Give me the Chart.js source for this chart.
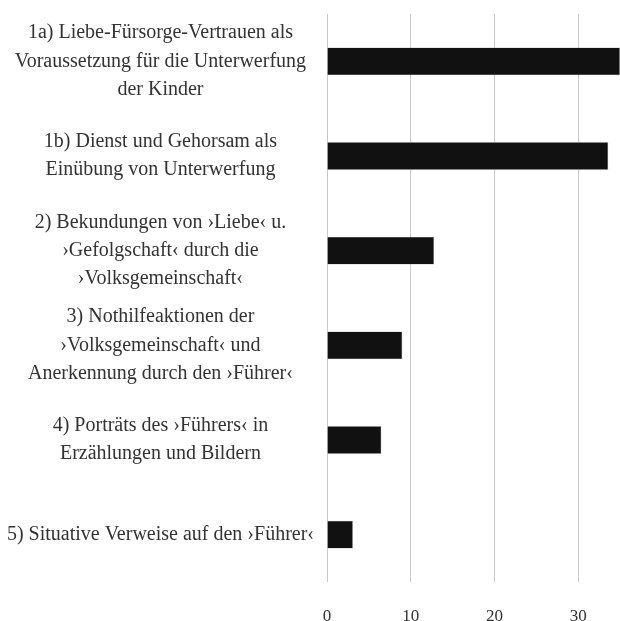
<!DOCTYPE html>
<html>
<head>
<meta charset="utf-8">
<script src="https://cdn.jsdelivr.net/npm/chart.js@4"></script>
<style>
  html, body { margin: 0; padding: 0; background: #fff; }
  #wrap { width: 620px; height: 621px; position: relative; }
</style>
</head>
<body>
<div id="wrap"><canvas id="chart"></canvas></div>
<script>
// categories (each label split into its printed lines)
const categories = [
    ['1a) Liebe-Fürsorge-Vertrauen als', 'Voraussetzung für die Unterwerfung', 'der Kinder'],
    ['1b) Dienst und Gehorsam als', 'Einübung von Unterwerfung'],
    ['2) Bekundungen von ›Liebe‹ u.', '›Gefolgschaft‹ durch die', '›Volksgemeinschaft‹'],
    ['3) Nothilfeaktionen der', '›Volksgemeinschaft‹ und', 'Anerkennung durch den ›Führer‹'],
    ['4) Porträts des ›Führers‹ in', 'Erzählungen und Bildern'],
    ['5) Situative Verweise auf den ›Führer‹']
];
const values = [35.0, 33.6, 12.8, 9.0, 6.5, 3.1];
const xTicks = [0, 10, 20, 30];

const serif = "'Liberation Serif', 'DejaVu Serif', serif";

new Chart(document.getElementById('chart'), {
    type: 'bar',
    data: {
        labels: categories,
        datasets: [{
            data: values,
            backgroundColor: '#111111',
            borderColor: '#9a9a9a',
            borderWidth: 0.6,
            categoryPercentage: 0.6,
            barPercentage: 0.49
        }]
    },
    options: {
        indexAxis: 'y',
        responsive: true,
        maintainAspectRatio: false,
        animation: false,
        layout: { padding: { top: 14, right: 0, bottom: 0, left: 0 } },
        plugins: {
            legend: { display: false },
            tooltip: { enabled: false }
        },
        scales: {
            x: {
                min: 0,
                max: 35,
                afterBuildTicks: (axis) => { axis.ticks = xTicks.map(v => ({ value: v })); },
                afterFit: (axis) => {
                    axis.height = 39;
                    axis.paddingLeft = 0;
                    axis.paddingRight = 0;
                },
                ticks: {
                    includeBounds: false,
                    color: '#333',
                    padding: 24,
                    font: { family: serif, size: 17 }
                },
                grid: { color: '#c8c8c8', lineWidth: 1, drawTicks: false, tickLength: 0 },
                border: { display: false }
            },
            y: {
                afterFit: (axis) => {
                    axis.width = 327;
                    axis.paddingTop = 0;
                    axis.paddingBottom = 0;
                },
                ticks: {
                    crossAlign: 'center',
                    color: '#333',
                    padding: 13,
                    font: { family: serif, size: 20, lineHeight: 1.42 }
                },
                grid: { display: false, drawTicks: false, tickLength: 0 },
                border: { display: false }
            }
        }
    }
});
</script>
</body>
</html>
